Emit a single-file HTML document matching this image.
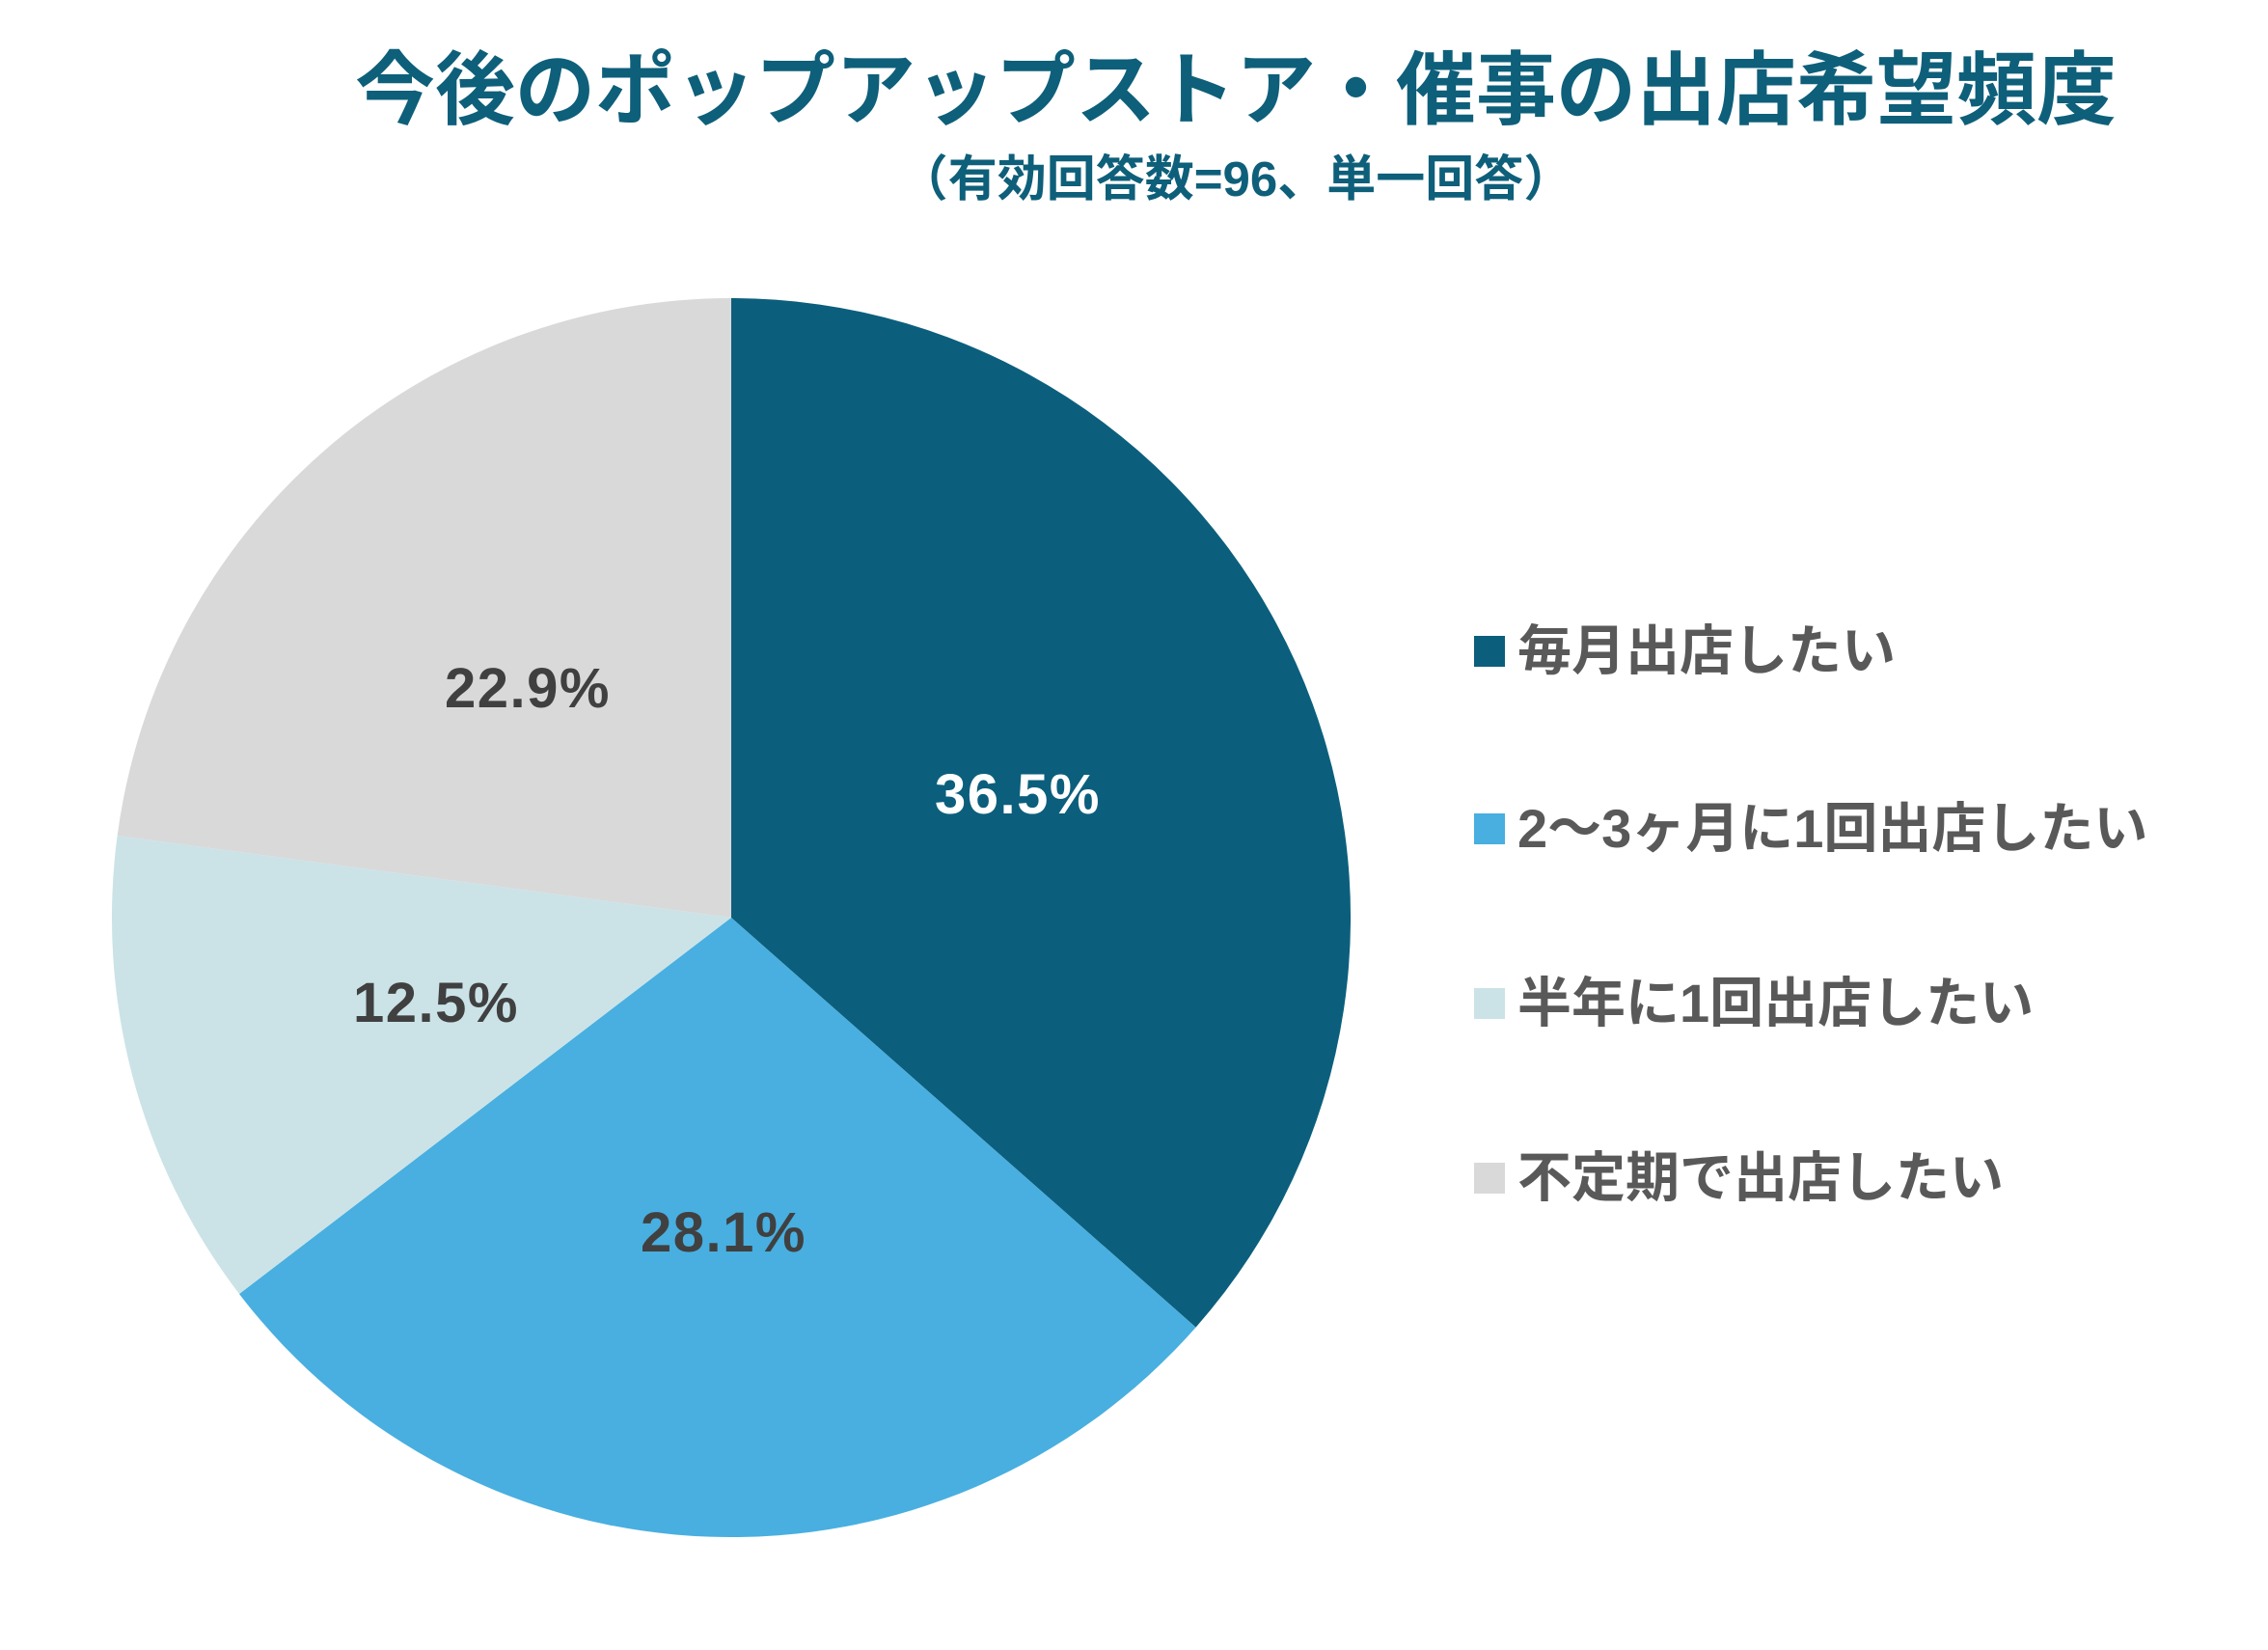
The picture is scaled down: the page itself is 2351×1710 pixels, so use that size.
<!DOCTYPE html>
<html><head><meta charset="utf-8"><style>
body{margin:0;background:#fff;}
svg text{font-family:"Liberation Sans","Noto Sans CJK JP",sans-serif;font-weight:bold;}
</style></head><body>
<svg width="2351" height="1705" viewBox="0 0 2351 1705" xmlns="http://www.w3.org/2000/svg">
<rect width="2351" height="1705" fill="#fff"/>
<text x="1281" y="122" text-anchor="middle" font-size="83" fill="#0e5f7a">今後のポップアップストア・催事の出店希望頻度</text>
<text x="1281" y="203" text-anchor="middle" font-size="51" fill="#0e5f7a">（有効回答数=96、単一回答）</text>
<g transform="translate(-3,-3)">
<path d="M761,954 L761,312 A642,642 0 0 1 1242.6,1378.6 Z" fill="#0b5f7c"/>
<path d="M761,954 L1242.6,1378.6 A642,642 0 0 1 251,1344 Z" fill="#48afe0"/>
<path d="M761,954 L251,1344 A642,642 0 0 1 124.6,869.1 Z" fill="#cbe3e7"/>
<path d="M761,954 L124.6,869.1 A642,642 0 0 1 761,312 Z" fill="#d9d9d9"/>
</g>
<g font-size="58" text-anchor="middle" letter-spacing="1.5">
<text x="1055" y="843" fill="#fff">36.5%</text>
<text x="750" y="1297" fill="#404040">28.1%</text>
<text x="452" y="1059" fill="#404040">12.5%</text>
<text x="547" y="733" fill="#404040">22.9%</text>
</g>
<g font-size="56" fill="#595959">
<rect x="1528" y="659" width="32" height="32" fill="#0b5f7c"/>
<text x="1573" y="694">毎月出店したい</text>
<rect x="1528" y="843" width="32" height="32" fill="#48afe0"/>
<text x="1573" y="878">2〜3ヶ月に1回出店したい</text>
<rect x="1528" y="1024" width="32" height="32" fill="#cbe3e7"/>
<text x="1573" y="1059">半年に1回出店したい</text>
<rect x="1528" y="1205" width="32" height="32" fill="#d9d9d9"/>
<text x="1573" y="1240">不定期で出店したい</text>
</g>
</svg>
</body></html>
